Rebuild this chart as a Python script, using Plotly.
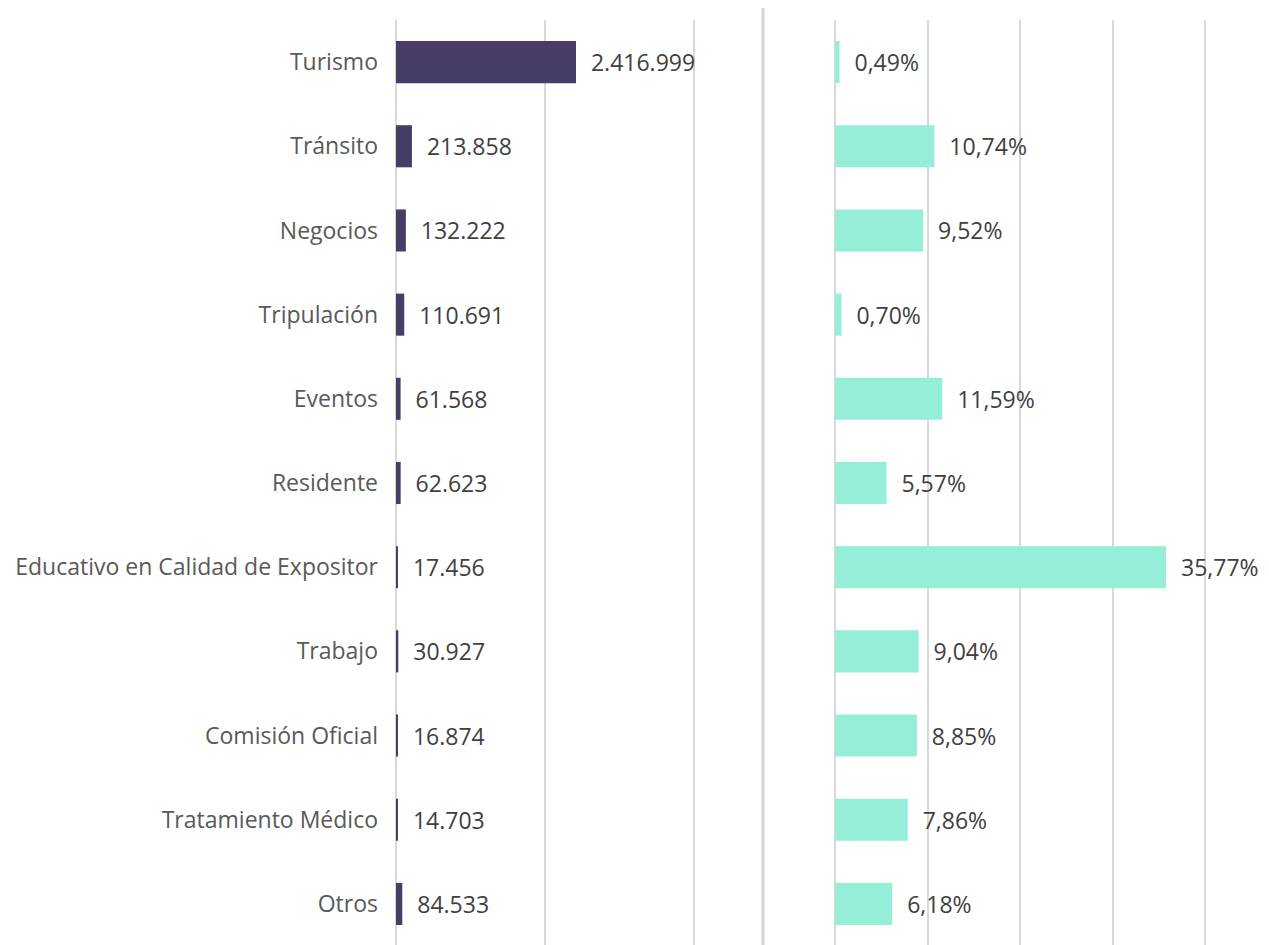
import plotly.graph_objects as go

categorias = ["Turismo", "Tránsito", "Negocios", "Tripulación", "Eventos", "Residente",
              "Educativo en Calidad de Expositor", "Trabajo", "Comisión Oficial",
              "Tratamiento Médico", "Otros"]
visitantes = [2416999, 213858, 132222, 110691, 61568, 62623, 17456, 30927, 16874, 14703, 84533]
visitantes_txt = ["2.416.999", "213.858", "132.222", "110.691", "61.568", "62.623",
                  "17.456", "30.927", "16.874", "14.703", "84.533"]
porcentajes = [0.49, 10.74, 9.52, 0.70, 11.59, 5.57, 35.77, 9.04, 8.85, 7.86, 6.18]
porcentajes_txt = ["0,49%", "10,74%", "9,52%", "0,70%", "11,59%", "5,57%",
                   "35,77%", "9,04%", "8,85%", "7,86%", "6,18%"]

W, H = 1269, 945
OFF = 8  # page body margin
FONT = "Open Sans"

fig = go.Figure()
fig.add_trace(go.Bar(
    y=categorias, x=visitantes, orientation="h", xaxis="x", yaxis="y",
    marker=dict(color="#483D66", line=dict(width=0)),
    text=["  " + t for t in visitantes_txt], textposition="outside",
    textfont=dict(family=FONT, size=23, color="#404040"),
    cliponaxis=False, hoverinfo="skip",
))
fig.add_trace(go.Bar(
    y=categorias, x=porcentajes, orientation="h", xaxis="x2", yaxis="y2",
    marker=dict(color="#94EED8", line=dict(width=0)),
    text=["  " + t for t in porcentajes_txt], textposition="outside",
    textfont=dict(family=FONT, size=23, color="#404040"),
    cliponaxis=False, hoverinfo="skip",
))

x1 = ((396 - OFF) / W, (763 - OFF) / W)
x2 = ((835 - OFF) / W, (1215 - OFF) / W)
grid = dict(showgrid=True, gridcolor="#D9D9D9", gridwidth=2, zeroline=True,
            zerolinecolor="#D9D9D9", zerolinewidth=2, showticklabels=False,
            showline=False, ticks="")

top, bottom = 20 - OFF, 946 - OFF
plot_h = bottom - top
sep_top = 6 - OFF

fig.update_layout(
    width=W, height=H,
    margin=dict(l=0, r=0, t=top, b=H - bottom, autoexpand=False),
    plot_bgcolor="white", paper_bgcolor="white",
    showlegend=False, bargap=0.5,
    xaxis=dict(domain=x1, range=[0, 4.928e6], dtick=2e6, **grid),
    xaxis2=dict(domain=x2, range=[0, 41.06], dtick=10, **grid),
    yaxis=dict(anchor="x", domain=[0, 1], categoryorder="array",
               categoryarray=categorias, autorange="reversed",
               showgrid=False, zeroline=False, showline=False, ticks="",
               ticklabelstandoff=17, automargin=False,
               tickfont=dict(family=FONT, size=23, color="#595959")),
    yaxis2=dict(anchor="x2", domain=[0, 1], categoryorder="array",
                categoryarray=categorias, autorange="reversed",
                showgrid=False, zeroline=False, showline=False, ticks="",
                showticklabels=False),
    shapes=[dict(type="line", xref="paper", yref="paper",
                 x0=(763 - OFF) / W, x1=(763 - OFF) / W,
                 y0=-0.02, y1=1 + (top - sep_top) / plot_h,
                 line=dict(color="#D5D3E3", width=3), layer="below")],
)

fig.write_html("out.html")
